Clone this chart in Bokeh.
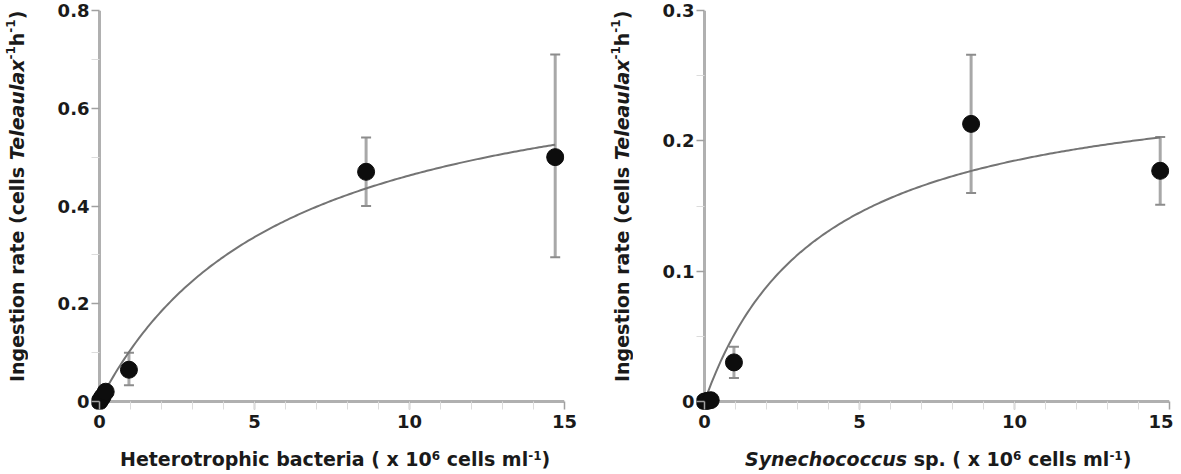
import numpy as np
from bokeh.plotting import figure
from bokeh.models import (Range1d, FixedTicker, Whisker, TeeHead,
                          ColumnDataSource, Span, Div)
from bokeh.layouts import row, column
from bokeh.embed import file_html
from bokeh.resources import INLINE

# ---------------- data ----------------
bact_x = [0.0, 0.05, 0.1, 0.2, 0.95, 8.6, 14.7]
bact_y = [0.0, 0.005, 0.01, 0.02, 0.065, 0.47, 0.50]
bact_lo = [0.0, 0.005, 0.01, 0.02, 0.033, 0.40, 0.295]
bact_hi = [0.0, 0.005, 0.01, 0.02, 0.10, 0.54, 0.71]
bact_fit_imax, bact_fit_k = 0.74, 6.0

syn_x = [0.0, 0.05, 0.1, 0.2, 0.95, 8.6, 14.7]
syn_y = [0.0, 0.0, 0.0005, 0.001, 0.030, 0.213, 0.177]
syn_lo = [0.0, 0.0, 0.0005, 0.001, 0.018, 0.160, 0.151]
syn_hi = [0.0, 0.0, 0.0005, 0.001, 0.042, 0.266, 0.203]
syn_fit_imax, syn_fit_k = 0.255, 3.8

x_ticks = [0, 5, 10, 15]
x_minor = list(range(1, 15))
bact_yticks = [0, 0.2, 0.4, 0.6, 0.8]
bact_yminor = [0.1, 0.3, 0.5, 0.7]
syn_yticks = [0, 0.1, 0.2, 0.3]
syn_yminor = [0.05, 0.15, 0.25]
fit_xmax = 14.7

SUP = '<span style="font-size:12px;vertical-align:0.5em;line-height:0">{}</span>'
ylabel_html = ("Ingestion rate (cells <i>Teleaulax</i>" + SUP.format("-1") + "h"
               + SUP.format("-1") + ")")
bact_xlabel_html = ("Heterotrophic bacteria ( x 10" + SUP.format("6") + " cells ml"
                    + SUP.format("-1") + ")")
syn_xlabel_html = ("<i>Synechococcus</i> sp. ( x 10" + SUP.format("6") + " cells ml"
                   + SUP.format("-1") + ")")

FONT = "DejaVu Sans"
AXIS_COL = "#b0b0b0"
TXT = "#1a1a1a"

# layout (pixels)
PX_X = 31.0          # px per x unit
PAD = 8              # px of frame left of / below the zero lines
FRAME_H = 391        # px from 0 to top tick
X_MAX = 15
TOP = 10
FIG_H = 446
BOTTOM = FIG_H - TOP - FRAME_H - PAD
YDIV_W = 30
XDIV_H = 26


def make_panel(xs, ys, lo, hi, imax, k, yticks, yminor, ymax, border_left, border_right):
    px_y = FRAME_H / ymax
    p = figure(title=None, output_backend="svg", toolbar_location=None,
               frame_width=int(round(PX_X * X_MAX + PAD)), frame_height=FRAME_H + PAD,
               min_border_left=border_left, min_border_right=border_right,
               min_border_top=TOP, min_border_bottom=BOTTOM,
               x_range=Range1d(-PAD / PX_X, X_MAX), y_range=Range1d(-PAD / px_y, ymax))
    p.outline_line_color = None
    p.grid.visible = False
    p.background_fill_color = "white"
    p.border_fill_color = "white"

    for ax in (p.xaxis[0], p.yaxis[0]):
        ax.axis_line_color = None
        ax.major_tick_line_color = "#a0a0a0"
        ax.major_tick_line_width = 1.5
        ax.major_tick_out = 0
        ax.major_tick_in = PAD
        ax.minor_tick_line_color = "#dcdcdc"
        ax.minor_tick_out = 0
        ax.minor_tick_in = PAD
        ax.major_label_text_font = FONT
        ax.major_label_text_font_style = "bold"
        ax.major_label_text_font_size = "18px"
        ax.major_label_text_color = TXT
    p.xaxis[0].ticker = FixedTicker(ticks=x_ticks, minor_ticks=x_minor)
    p.yaxis[0].ticker = FixedTicker(ticks=yticks, minor_ticks=yminor)
    p.xaxis[0].major_label_standoff = 5
    p.yaxis[0].major_label_standoff = 2
    p.yaxis[0].major_label_overrides = {0: "0"}

    # axis lines through zero
    p.add_layout(Span(location=0, dimension="height", line_color=AXIS_COL,
                      line_width=3, level="underlay"))
    p.add_layout(Span(location=0, dimension="width", line_color=AXIS_COL,
                      line_width=3, level="underlay"))

    # error bars
    src = ColumnDataSource(dict(x=xs, y=ys, lo=lo, hi=hi))
    w = Whisker(base="x", upper="hi", lower="lo", source=src,
                line_color="#a8a8a8", line_width=3,
                upper_head=TeeHead(size=10, line_color="#8c8c8c", line_width=2),
                lower_head=TeeHead(size=10, line_color="#8c8c8c", line_width=2))
    p.add_layout(w)

    # fitted Michaelis-Menten curve
    cx = np.linspace(0, fit_xmax, 200)
    cy = imax * cx / (k + cx)
    p.line(cx, cy, line_color="#747474", line_width=2)

    p.scatter("x", "y", source=src, size=17, fill_color="#0d0d0d",
              line_color="#0d0d0d")
    return p


def ylab_div(html, center_x):
    inner = ('<div style="writing-mode:vertical-rl;transform:rotate(180deg);'
             'white-space:nowrap;font-family:\'DejaVu Sans\';font-weight:bold;'
             'font-size:19px;line-height:22px;color:%s;height:376px;width:22px;'
             'text-align:center;margin-top:8px;margin-left:%dpx;">%s</div>'
             % (TXT, center_x - 11, html))
    return Div(text=inner, width=YDIV_W, height=FIG_H, margin=0)


def xlab_div(html, width, pad_left):
    inner = ('<div style="white-space:nowrap;font-family:\'DejaVu Sans\';'
             'font-weight:bold;font-size:19px;line-height:%dpx;color:%s;'
             'padding-left:%dpx;">%s</div>' % (XDIV_H, TXT, pad_left, html))
    return Div(text=inner, width=width, height=XDIV_H, margin=0)


LEFT_BLOCK = 607     # width of left half (y-title + left plot)
p1 = make_panel(bact_x, bact_y, bact_lo, bact_hi, bact_fit_imax, bact_fit_k,
                bact_yticks, bact_yminor, 0.8, 91 - YDIV_W,
                LEFT_BLOCK - 91 - int(round(PX_X * X_MAX + PAD)))
p2 = make_panel(syn_x, syn_y, syn_lo, syn_hi, syn_fit_imax, syn_fit_k,
                syn_yticks, syn_yminor, 0.3, 696 - LEFT_BLOCK - YDIV_W, 4)

top_row = row(ylab_div(ylabel_html, 17), p1, ylab_div(ylabel_html, 622 - LEFT_BLOCK), p2)
bottom_row = row(xlab_div(bact_xlabel_html, LEFT_BLOCK, 120),
                 xlab_div(syn_xlabel_html, 1173 - LEFT_BLOCK, 745 - LEFT_BLOCK))
layout = column(top_row, bottom_row)
open("out.html", "w").write(file_html(layout, INLINE))
